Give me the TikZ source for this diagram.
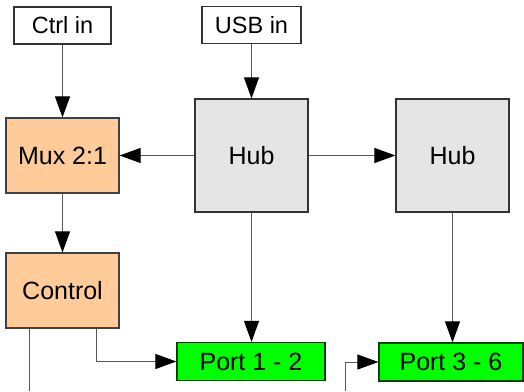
\documentclass[tikz,border=0pt]{standalone}
\usepackage{fontspec}
\setmainfont{Liberation Sans}
\usetikzlibrary{arrows.meta}

\begin{document}
\begin{tikzpicture}[x=1pt,y=-1pt,
-{Triangle[length=21pt,width=15pt,color=black]},line width=1pt,draw=black!65,
box/.style={rectangle,draw=black!80,line width=1.2pt,inner sep=0pt,font=\fontsize{25}{30}\selectfont},
in node/.style={box,fill=white,minimum width=97pt,minimum height=37pt,font=\fontsize{23.5}{28}\selectfont},
mux node/.style={box,fill=orange!40!white,draw=black!75,minimum width=113pt,minimum height=75pt},
hub node/.style={box,fill=black!10,minimum width=113pt,minimum height=113pt},
port node/.style={box,fill=green,draw=green!25!black,minimum height=38pt}]

\useasboundingbox (0,0) rectangle (524,391);

\node[in node] (ctrl) at (62.5,25.5) {Ctrl in};
\node[in node,minimum width=99pt] (usb) at (251.5,25) {USB in};
\node[mux node] (mux) at (62.5,155.5) {Mux 2:1};
\node[hub node] (hub1) at (251.5,155.5) {Hub};
\node[hub node] (hub2) at (452.5,155.5) {Hub};
\node[mux node] (ctl) at (62.5,290.5) {Control};
\node[port node,minimum width=148pt] (p12) at (251,361.5) {Port 1 - 2};
\node[port node,minimum width=144pt] (p36) at (451,362) {Port 3 - 6};

\coordinate (ctlout) at (29,391);
\coordinate (p36in) at (345,391);

\path
(ctrl) edge (mux)
(usb) edge (hub1)
(hub1) edge (mux)
edge (hub2)
(hub1.south) edge (hub1.south |- p12.north)
(mux) edge (ctl)
(hub2.south) edge (hub2.south |- p36.north);

\draw ([xshift=33.5pt]ctl.south) |- (p12);
\draw (p36in) |- (p36);
\draw[-] (ctl.south -| ctlout) -- (ctlout);

\end{tikzpicture}
\end{document}
